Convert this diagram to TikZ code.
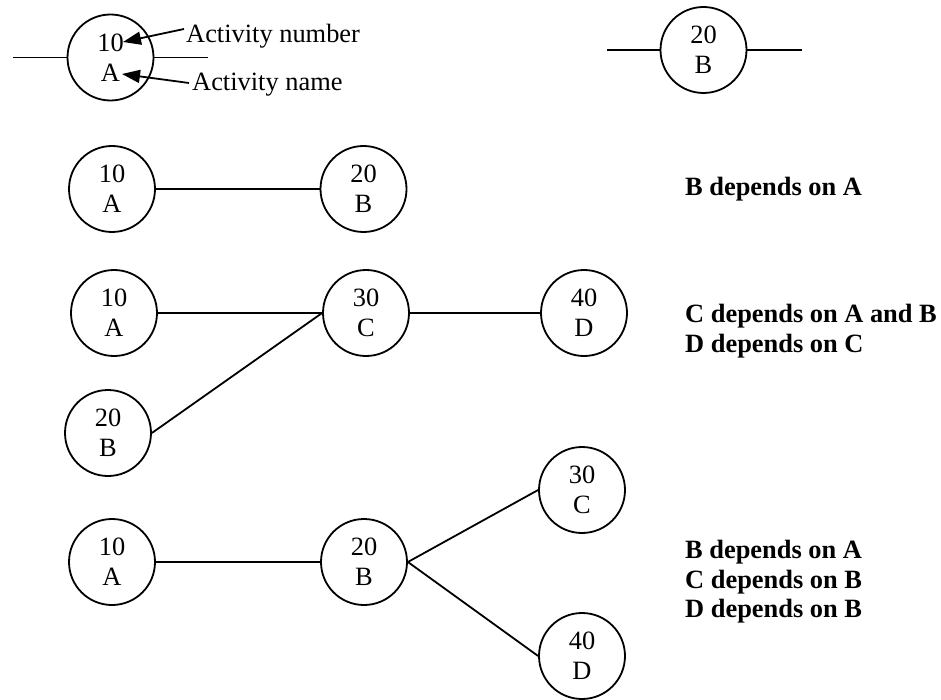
\documentclass[tikz,border=0pt]{standalone}
\usepackage{fontspec}
\setmainfont{Liberation Serif}
\usetikzlibrary{arrows.meta}
\begin{document}
\begin{tikzpicture}[x=1pt,y=-1pt,
  act/.style={circle,draw,line width=1.8pt,minimum size=86pt,inner sep=0pt,align=center,font=\fontsize{26.4}{30}\selectfont},
  link/.style={line width=1.8pt},
  pointer/.style={line width=1.8pt,-{Triangle[length=18pt,width=13pt]}},
  note/.style={inner sep=0pt,align=left,font=\fontsize{26.4}{29.5}\selectfont\bfseries},
  legend/.style={inner sep=0pt,anchor=base west,font=\fontsize{26.4}{30}\selectfont}]
\useasboundingbox (0,0) rectangle (941,700);

% legend row
\node[act] (a0) at (110.5,57.5) {10\\A};
\coordinate (l0s) at (13,57.5);
\coordinate (l0e) at (208,57.5);
\draw[link] (l0s) -- (a0.west);
\draw[link] (a0.east) -- (l0e);
\node[legend] (numlbl) at (186,43) {Activity number};
\node[legend] (namelbl) at (192,91) {Activity name};
\coordinate (numtail) at (184,29);
\coordinate (numtip) at (123,42);
\coordinate (nametail) at (189,83);
\coordinate (nametip) at (122,74);
\draw[pointer] (numtail) -- (numtip);
\draw[pointer] (nametail) -- (nametip);

\node[act] (b0) at (703.5,50) {20\\B};
\coordinate (r0s) at (607,50);
\coordinate (r0e) at (802,50);
\draw[link] (r0s) -- (b0.west);
\draw[link] (b0.east) -- (r0e);

% row 1
\node[act] (a1) at (112,189) {10\\A};
\node[act] (b1) at (363.5,189) {20\\B};
\draw[link] (a1.east) -- (b1.west);
\node[note,anchor=base west] (t1) at (685,196) {B depends on A};

% row 2
\node[act] (a2) at (114,313) {10\\A};
\node[act] (c2) at (366,313) {30\\C};
\node[act] (d2) at (584,313) {40\\D};
\node[act] (b2) at (108,433) {20\\B};
\draw[link] (a2.east) -- (c2.west);
\draw[link] (b2.east) -- (c2.west);
\draw[link] (c2.east) -- (d2.west);
\node[note,anchor=north west] (t2) at (685,304) {C depends on A and B\\D depends on C};

% row 3
\node[act] (a3) at (112,562) {10\\A};
\node[act] (b3) at (364,562) {20\\B};
\node[act] (c3) at (582,490) {30\\C};
\node[act] (d3) at (582,656) {40\\D};
\draw[link] (a3.east) -- (b3.west);
\draw[link] (b3.east) -- (c3.west);
\draw[link] (b3.east) -- (d3.west);
\node[note,anchor=north west] (t3) at (685,540) {B depends on A\\C depends on B\\D depends on B};
\end{tikzpicture}
\end{document}
